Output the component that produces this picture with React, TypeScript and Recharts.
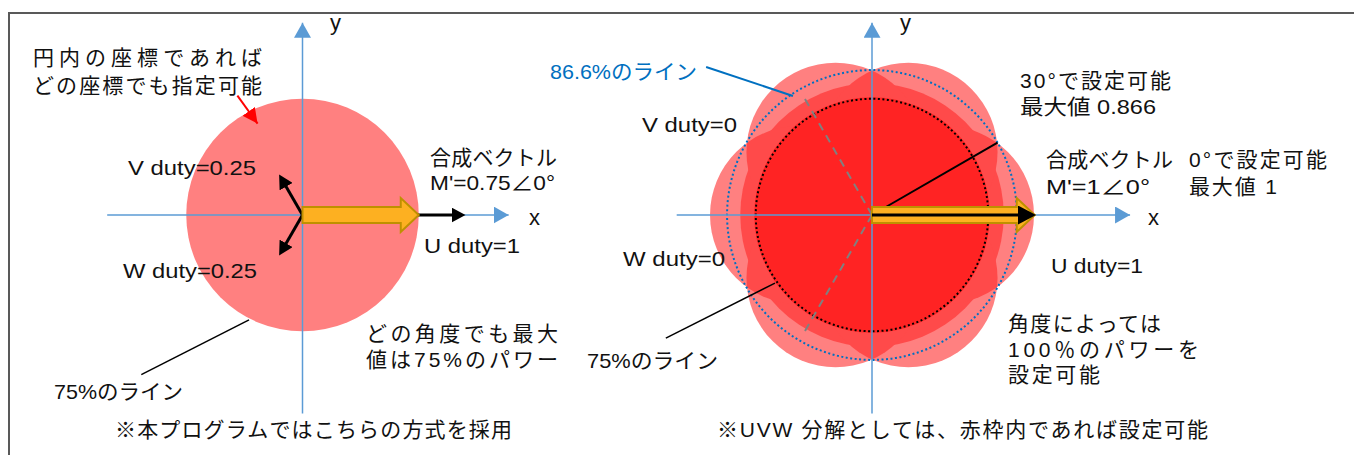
import React from 'react';
import { ComposedChart, XAxis, YAxis, Line, Scatter } from 'recharts';

const WIDTH = 1354;
const HEIGHT = 455;
const UNIT = 155; // px per 1.0 of duty / vector length
const LEFT_ORIGIN = { x: 302.5, y: 215 };
const RIGHT_ORIGIN = { x: 872, y: 215 };

// ---- left diagram: every point inside the 75% circle ----
const leftRegion = [{ x: 0, y: 0, r: 0.75 }];
const leftXAxis = [{ x: -1.26, y: 0 }, { x: 1.33, y: 0 }];
const leftYAxis = [{ x: 0, y: -1.28 }, { x: 0, y: 1.24 }];
const leftU = [{ x: 0, y: 0 }, { x: 1, y: 0 }];
const leftV = [{ x: 0, y: 0 }, { x: -0.125, y: 0.2165 }];
const leftW = [{ x: 0, y: 0 }, { x: -0.125, y: -0.2165 }];
const leftResultant = [{ x: 0, y: 0, len: 0.75 }];
const leftLineLeader = [{ x: -0.345, y: -0.677 }, { x: -1.04, y: -1.03 }];
const leftRegionPointer = [{ x: -0.42, y: 0.77 }, { x: -0.29, y: 0.59 }];

// ---- right diagram: UVW decomposition ----
const petalAngles = [0, 60, 120, 180, 240, 300];
const petalOffset = 0.47;
const petalRadius = 0.575;
const rightPetals = petalAngles.map((a) => ({
  x: petalOffset * Math.cos((a * Math.PI) / 180),
  y: petalOffset * Math.sin((a * Math.PI) / 180),
  r: petalRadius,
  a,
}));
const rightMid = [{ x: 0, y: 0, r: 0.85 }];
const rightCore = [{ x: 0, y: 0, r: 0.76 }];
const circle866 = [{ x: 0, y: 0, r: 0.935 }];
const circle75 = [{ x: 0, y: 0, r: 0.75 }];
const rightXAxis = [{ x: -1.26, y: 0 }, { x: 1.665, y: 0 }];
const rightYAxis = [{ x: 0, y: -1.28 }, { x: 0, y: 1.24 }];
const rightU = [{ x: 0, y: 0 }, { x: 1, y: 0 }];
const rightResultant = [{ x: 0, y: 0, len: 1.05 }];
const line30 = [{ x: 0, y: 0 }, { x: 0.81, y: 0.4675 }];
const vZero = [{ x: 0, y: 0 }, { x: -0.4325, y: 0.749 }];
const wZero = [{ x: 0, y: 0 }, { x: -0.4325, y: -0.749 }];
const blueLeader = [{ x: -1.07, y: 0.955 }, { x: -0.51, y: 0.768 }];
const rightLineLeader = [{ x: -0.626, y: -0.439 }, { x: -1.33, y: -0.794 }];

// text: [label, left x, centre y, width, stretch glyphs, colour]
const labels: [string, number, number, number, boolean, string?][] = [
  ['円内の座標であれば', 33, 57, 229, false],
  ['どの座標でも指定可能', 33, 85, 229, false],
  ['V duty=0.25', 128, 167, 128, true],
  ['W duty=0.25', 123, 270, 134, true],
  ['合成ベクトル', 430, 157, 127, false],
  ["M'=0.75∠0°", 430, 182, 125, true],
  ['U duty=1', 424, 245, 96, true],
  ['どの角度でも最大', 366, 333, 192, false],
  ['値は75%のパワー', 366, 359, 192, false],
  ['75%のライン', 54, 391, 129, true],
  ['※本プログラムではこちらの方式を採用', 115, 429, 397, false],
  ['86.6%のライン', 550, 71, 147, true, '#0070C0'],
  ['V duty=0', 642, 124, 95, true],
  ['W duty=0', 623, 258, 102, true],
  ['75%のライン', 587, 360, 131, true],
  ['30°で設定可能', 1020, 80, 151, false],
  ['最大値 0.866', 1020, 106, 136, true],
  ['合成ベクトル', 1046, 159, 127, false],
  ["M'=1∠0°", 1046, 186, 104, true],
  ['0°で設定可能', 1189, 159, 138, false],
  ['最大値 1', 1189, 186, 88, false],
  ['U duty=1', 1051, 265, 92, true],
  ['角度によっては', 1008, 323, 153, false],
  ['100％のパワーを', 1008, 349, 191, false],
  ['設定可能', 1008, 374, 92, false],
  ['※UVW 分解としては、赤枠内であれば設定可能', 717, 429, 491, false],
];
const axisLetters: [string, number, number][] = [
  ['x', 529, 225],
  ['y', 330, 30],
  ['x', 1148, 225],
  ['y', 900, 30],
];

const FONT = "'Liberation Sans', 'Noto Sans CJK JP', sans-serif";
const LIGHT = '#FF8080';
const MEDIUM = '#FF4A4A';
const DARK = '#FF2323';

const circleShape = (style: any) => (props: any) => {
  const { cx, cy, payload } = props;
  return <circle cx={cx} cy={cy} r={payload.r * UNIT} {...style} />;
};

// overlap of one petal with its neighbour 60° further round
const lensShape = (props: any) => {
  const { cx, cy, payload } = props;
  const a0 = (payload.a * Math.PI) / 180;
  const a1 = ((payload.a + 60) * Math.PI) / 180;
  const nx = cx + (Math.cos(a1) - Math.cos(a0)) * petalOffset * UNIT;
  const ny = cy - (Math.sin(a1) - Math.sin(a0)) * petalOffset * UNIT;
  const id = `lens-${payload.a}`;
  const r = payload.r * UNIT;
  return (
    <g>
      <defs>
        <clipPath id={id}>
          <circle cx={nx} cy={ny} r={r} />
        </clipPath>
      </defs>
      <circle cx={cx} cy={cy} r={r} fill={MEDIUM} clipPath={`url(#${id})`} />
    </g>
  );
};

const blockArrow = (props: any) => {
  const { cx, cy, payload } = props;
  const L = payload.len * UNIT;
  const hb = 8;
  const hh = 17;
  const hl = 18;
  const d = `M${cx},${cy - hb} L${cx + L - hl},${cy - hb} L${cx + L - hl},${cy - hh} L${cx + L},${cy} L${cx + L - hl},${cy + hh} L${cx + L - hl},${cy + hb} L${cx},${cy + hb} Z`;
  return <path d={d} fill="#FDB021" stroke="#BF9000" strokeWidth={2} strokeLinejoin="miter" />;
};

const seg = (key: string, data: any[], stroke: string, width: number, extra: any = {}) => (
  <Line
    key={key}
    data={data}
    dataKey="y"
    type="linear"
    stroke={stroke}
    strokeWidth={width}
    dot={false}
    activeDot={false}
    isAnimationActive={false}
    {...extra}
  />
);

const region = (key: string, data: any[], shape: any) => (
  <Scatter key={key} data={data} shape={shape} zIndex={100} isAnimationActive={false} />
);

function panel(origin: { x: number; y: number }, items: React.ReactNode[]) {
  const xDomain = [-origin.x / UNIT, (WIDTH - origin.x) / UNIT];
  const yDomain = [-(HEIGHT - origin.y) / UNIT, origin.y / UNIT];
  return (
    <div style={{ position: 'absolute', left: 0, top: 0 }}>
      <ComposedChart width={WIDTH} height={HEIGHT} margin={{ top: 0, right: 0, bottom: 0, left: 0 }}>
        <XAxis type="number" dataKey="x" domain={xDomain} hide allowDataOverflow />
        <YAxis type="number" dataKey="y" domain={yDomain} hide allowDataOverflow />
        {items}
      </ComposedChart>
    </div>
  );
}

export default function App() {
  const left = [
    region('region', leftRegion, circleShape({ fill: LIGHT })),
    seg('xaxis', leftXAxis, '#5B9BD5', 1.5, { markerEnd: 'url(#headBlue)' }),
    seg('yaxis', leftYAxis, '#5B9BD5', 1.5, { markerEnd: 'url(#headBlue)' }),
    seg('u', leftU, '#000', 3, { markerEnd: 'url(#headBlack)' }),
    <Scatter key="res" data={leftResultant} shape={blockArrow} zIndex={600} isAnimationActive={false} />,
    seg('v', leftV, '#000', 3, { markerEnd: 'url(#headBlack)' }),
    seg('w', leftW, '#000', 3, { markerEnd: 'url(#headBlack)' }),
    seg('leader', leftLineLeader, '#000', 1.5),
    seg('pointer', leftRegionPointer, '#FF0000', 2, { markerEnd: 'url(#headRed)' }),
  ];
  const right = [
    region('petals', rightPetals, circleShape({ fill: LIGHT })),
    region('mid', rightMid, circleShape({ fill: MEDIUM })),
    region('lens', rightPetals, lensShape),
    region('core', rightCore, circleShape({ fill: DARK })),
    region('c866', circle866, circleShape({ fill: 'none', stroke: '#0070C0', strokeWidth: 2, strokeDasharray: '2 2.5' })),
    region('c75', circle75, circleShape({ fill: 'none', stroke: '#000', strokeWidth: 2, strokeDasharray: '2 2.5' })),
    seg('xaxis', rightXAxis, '#5B9BD5', 1.5, { markerEnd: 'url(#headBlue)' }),
    seg('yaxis', rightYAxis, '#5B9BD5', 1.5, { markerEnd: 'url(#headBlue)' }),
    seg('vzero', vZero, '#808080', 2, { strokeDasharray: '8 6' }),
    seg('wzero', wZero, '#808080', 2, { strokeDasharray: '8 6' }),
    seg('l30', line30, '#000', 2),
    <Scatter key="res" data={rightResultant} shape={blockArrow} zIndex={600} isAnimationActive={false} />,
    seg('u', rightU, '#000', 3, { markerEnd: 'url(#headBlackBig)', zIndex: 700 }),
    seg('bleader', blueLeader, '#0070C0', 2),
    seg('leader', rightLineLeader, '#000', 1.5),
  ];

  return (
    <div style={{ position: 'absolute', left: 0, top: 0, width: WIDTH, height: HEIGHT, background: '#fff', overflow: 'hidden' }}>
      <svg width={0} height={0} style={{ position: 'absolute' }}>
        <defs>
          <marker id="headBlue" markerUnits="userSpaceOnUse" markerWidth={16} markerHeight={17} refX={15} refY={8.5} orient="auto">
            <path d="M0,0 L15,8.5 L0,17 z" fill="#5B9BD5" />
          </marker>
          <marker id="headBlack" markerUnits="userSpaceOnUse" markerWidth={15} markerHeight={15} refX={6} refY={7.5} orient="auto">
            <path d="M0,0 L14,7.5 L0,15 z" fill="#000" />
          </marker>
          <marker id="headBlackBig" markerUnits="userSpaceOnUse" markerWidth={19} markerHeight={19} refX={9} refY={9.5} orient="auto">
            <path d="M0,0 L18,9.5 L0,19 z" fill="#000" />
          </marker>
          <marker id="headRed" markerUnits="userSpaceOnUse" markerWidth={16} markerHeight={15} refX={15} refY={7.5} orient="auto">
            <path d="M0,0 L15,7.5 L0,15 z" fill="#FF0000" />
          </marker>
        </defs>
      </svg>
      {panel(LEFT_ORIGIN, left)}
      {panel(RIGHT_ORIGIN, right)}
      <svg width={WIDTH} height={HEIGHT} style={{ position: 'absolute', left: 0, top: 0, pointerEvents: 'none' }}>
        <path d={`M9,${HEIGHT} L9,13 L${WIDTH},13`} fill="none" stroke="#595959" strokeWidth={2} />
        {labels.map(([t, x, cy, w, stretch, c], i) => (
          <text
            key={i}
            x={x}
            y={cy + 7.5}
            textLength={w}
            lengthAdjust={stretch ? 'spacingAndGlyphs' : 'spacing'}
            fontFamily={FONT}
            fontSize={21}
            fill={c || '#111'}
          >
            {t}
          </text>
        ))}
        {axisLetters.map(([t, x, y], i) => (
          <text key={'a' + i} x={x} y={y} fontFamily={FONT} fontSize={22} fill="#111">
            {t}
          </text>
        ))}
      </svg>
    </div>
  );
}
